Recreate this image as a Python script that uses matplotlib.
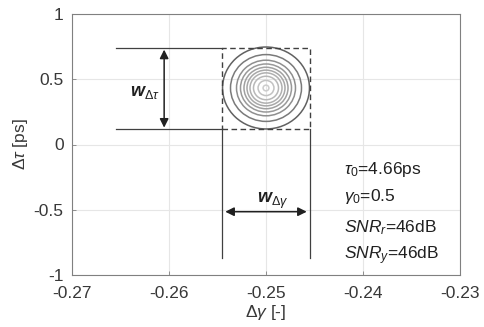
import numpy as np
import matplotlib.pyplot as plt
from matplotlib.patches import Ellipse, Rectangle

plt.rcParams['font.family'] = ['Liberation Sans', 'DejaVu Sans']
plt.rcParams['mathtext.fontset'] = 'custom'
plt.rcParams['mathtext.rm'] = 'Liberation Sans'
plt.rcParams['mathtext.it'] = 'Liberation Sans:italic'
plt.rcParams['mathtext.bf'] = 'Liberation Sans:bold:italic'

# estimated peak position and window
center = (-0.25, 0.433)
box_x = [-0.2545, -0.2455]
box_y = [0.119, 0.737]

# contour ellipse semi-axes (gamma, tau)
ring_wx = [0.00448, 0.00366, 0.00304, 0.00263, 0.00227, 0.00196, 0.00165, 0.00129, 0.00082, 0.0003]
ring_wy = [0.314, 0.256, 0.213, 0.184, 0.159, 0.137, 0.116, 0.090, 0.058, 0.022]
ring_gray = [0.38, 0.48, 0.56, 0.6, 0.63, 0.66, 0.69, 0.72, 0.76, 0.8]

xticks = [-0.27, -0.26, -0.25, -0.24, -0.23]
yticks = [-1, -0.5, 0, 0.5, 1]

fig = plt.figure(figsize=(4.84, 3.27), dpi=100)
ax = fig.add_axes([72/484, 1 - 275/327, 388/484, 261/327])

ax.set_xlim(-0.27, -0.23)
ax.set_ylim(-1, 1)
ax.set_xticks(xticks)
ax.set_yticks(yticks)
ax.set_xticklabels(['-0.27', '-0.26', '-0.25', '-0.24', '-0.23'])
ax.set_yticklabels(['-1', '-0.5', '0', '0.5', '1'])
ax.grid(True, color='#e6e6e6', linewidth=0.8)
ax.set_axisbelow(True)
for s in ax.spines.values():
    s.set_color('#808080')
    s.set_linewidth(0.8)
ax.tick_params(labelsize=12.5, length=3, direction='in', width=0.6,
               colors='#808080', labelcolor='#383838')
ax.tick_params(axis='y', pad=6)
ax.tick_params(axis='x', pad=8)

for wx, wy, g in zip(ring_wx, ring_wy, ring_gray):
    ax.add_patch(Ellipse(center, 2*wx, 2*wy, fill=False,
                         edgecolor=(g, g, g), linewidth=1.1))

lc = '#404040'
ax.add_patch(Rectangle((box_x[0], box_y[0]), box_x[1]-box_x[0], box_y[1]-box_y[0],
                       fill=False, linestyle=(0, (4, 2.5)), edgecolor=lc, linewidth=1.0))

# extension lines
ax.plot([-0.2655, box_x[0]], [box_y[1], box_y[1]], color=lc, lw=0.9)
ax.plot([-0.2655, box_x[0]], [box_y[0], box_y[0]], color=lc, lw=0.9)
ax.plot([box_x[0], box_x[0]], [box_y[0], -0.87], color=lc, lw=0.9)
ax.plot([box_x[1], box_x[1]], [box_y[0], -0.87], color=lc, lw=0.9)

arrow = dict(arrowstyle='<|-|>', color='#202020', lw=1.1, mutation_scale=13,
             shrinkA=0, shrinkB=0)
ax.annotate('', xy=(-0.2605, box_y[1] - 0.01), xytext=(-0.2605, box_y[0] + 0.01),
            arrowprops=arrow)
ax.annotate('', xy=(-0.2542, -0.515), xytext=(-0.2458, -0.515), arrowprops=arrow)

ax.text(-0.2609, 0.40, r'$\mathbf{w}_{\Delta\tau}$', fontsize=13, color='#202020',
        ha='right', va='center')
ax.text(-0.2509, -0.43, r'$\mathbf{w}_{\Delta\gamma}$', fontsize=13, color='#202020',
        ha='left', va='center')

tc = '#202020'
tx = -0.2420
ax.text(tx, -0.19, r'$\tau_0$=4.66ps', fontsize=12.5, color=tc, va='center')
ax.text(tx, -0.40, r'$\gamma_0$=0.5', fontsize=12.5, color=tc, va='center')
ax.text(tx, -0.64, r'$SNR_r$=46dB', fontsize=12.5, color=tc, va='center')
ax.text(tx, -0.85, r'$SNR_y$=46dB', fontsize=12.5, color=tc, va='center')

ax.set_xlabel(r'$\Delta\gamma$ [-]', fontsize=12.5, color='#383838', labelpad=1)
ax.set_ylabel(r'$\Delta\tau$ [ps]', fontsize=12.5, color='#383838', labelpad=3)

fig.savefig('out.png', dpi=100)
